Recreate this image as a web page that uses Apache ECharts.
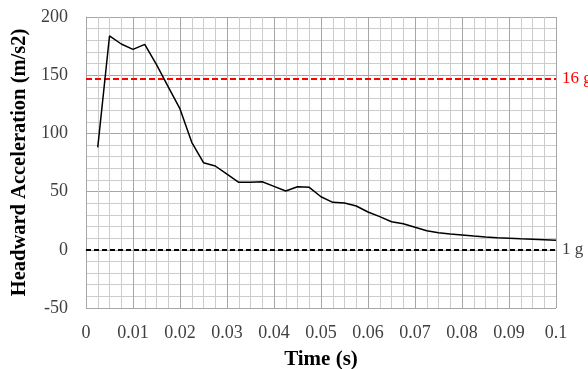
<!DOCTYPE html>
<html>
<head>
<meta charset="utf-8">
<script src="https://cdn.jsdelivr.net/npm/echarts@6/dist/echarts.min.js"></script>
<style>html,body{margin:0;padding:0;background:#fff;}#c{width:588px;height:369px;}</style>
</head>
<body>
<div id="c"></div>
<script>
const timeS = [0.0025,0.005,0.0075,0.01,0.0125,0.015,0.0175,0.02,0.0225,0.025,0.0275,0.03,0.0325,0.035,0.0375,0.04,0.0425,0.045,0.0475,0.05,0.0525,0.055,0.0575,0.06,0.0625,0.065,0.0675,0.07,0.0725,0.075,0.0775,0.08,0.0825,0.085,0.0875,0.09,0.0925,0.095,0.0975,0.1];
const accel = [88,183.7,176.8,172.2,176.5,159,140,121,92.3,74.8,72,65,58,58,58.5,54.5,50.5,54.2,53.7,45.6,40.8,40.2,37.6,32.5,28.5,24.1,22.4,19.3,16.4,14.7,13.6,12.7,11.8,11,10.4,9.9,9.4,9.0,8.6,8.2];
const limitHigh = 147, limitHighLabel = '16 g';
const limitLow = 0, limitLowLabel = '1 g';
const xTicks = {min: 0, max: 0.1, step: 0.01};
const yTicks = {min: -50, max: 200, step: 50};

const font = 'Liberation Serif';
const chart = echarts.init(document.getElementById('c'), null, {renderer: 'canvas'});
chart.setOption({
  animation: false,
  backgroundColor: '#fff',
  grid: {left: 86, right: 32, top: 17, bottom: 61, containLabel: false, outerBoundsMode: 'none'},
  xAxis: {
    type: 'value', min: xTicks.min, max: xTicks.max, interval: xTicks.step,
    name: 'Time (s)', nameLocation: 'middle', nameGap: 41,
    nameTextStyle: {fontFamily: font, fontSize: 21, fontWeight: 'bold', color: '#000'},
    axisLine: {show: true, lineStyle: {color: '#a6a6a6', width: 1}},
    axisTick: {show: false},
    axisLabel: {fontFamily: font, fontSize: 18, color: '#404040', margin: 16,
      formatter: v => String(parseFloat(v.toFixed(3)))},
    splitLine: {show: true, lineStyle: {color: '#a6a6a6', width: 1}},
    minorTick: {show: false, splitNumber: 4},
    minorSplitLine: {show: true, lineStyle: {color: '#cccccc', width: 1}}
  },
  yAxis: {
    type: 'value', min: yTicks.min, max: yTicks.max, interval: yTicks.step,
    name: 'Headward Acceleration (m/s2)', nameLocation: 'middle', nameGap: 55,
    nameTextStyle: {fontFamily: font, fontSize: 20.5, fontWeight: 'bold', color: '#000'},
    axisLine: {show: true, lineStyle: {color: '#a6a6a6', width: 1}},
    axisTick: {show: false},
    axisLabel: {fontFamily: font, fontSize: 18, color: '#404040', margin: 18},
    splitLine: {show: true, lineStyle: {color: '#a6a6a6', width: 1}},
    minorTick: {show: false, splitNumber: 5},
    minorSplitLine: {show: true, lineStyle: {color: '#cccccc', width: 1}}
  },
  series: [{
    type: 'line',
    data: timeS.map((t, i) => [t, accel[i]]),
    showSymbol: false,
    lineStyle: {color: '#000', width: 1.5},
    z: 5,
    markLine: {
      silent: true,
      symbol: 'none',
      data: [
        {yAxis: limitHigh, lineStyle: {color: '#ff0000', type: [6, 3], width: 2},
          label: {show: true, position: 'end', formatter: limitHighLabel, color: '#ff0000', fontFamily: font, fontSize: 17, distance: 6}},
        {yAxis: limitLow, lineStyle: {color: '#000', type: [5, 3], width: 2},
          label: {show: true, position: 'end', formatter: limitLowLabel, color: '#404040', fontFamily: font, fontSize: 17, distance: 6}}
      ]
    }
  }]
});
</script>
</body>
</html>
